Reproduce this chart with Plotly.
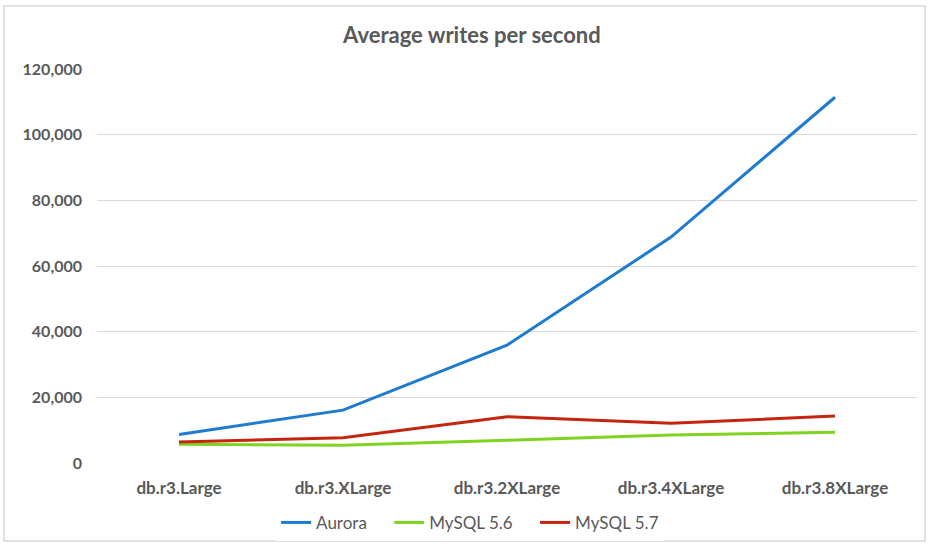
import plotly.graph_objects as go

categories = ["db.r3.Large", "db.r3.XLarge", "db.r3.2XLarge", "db.r3.4XLarge", "db.r3.8XLarge"]
aurora = [8700, 16100, 35900, 68800, 111400]
mysql56 = [5700, 5400, 6900, 8500, 9350]
mysql57 = [6400, 7700, 14100, 12100, 14300]
y_ticks = [0, 20000, 40000, 60000, 80000, 100000, 120000]
y_tick_labels = ["0", "20,000", "40,000", "60,000", "80,000", "100,000", "120,000"]

font_family = "Lato, 'Open Sans', sans-serif"
grey = "#595959"
pad = "\u00a0" * 4

fig = go.Figure()
for name, label, vals, color in [("Aurora", "Aurora" + pad, aurora, "#1f7bcf"),
                                 ("MySQL 5.6", "MySQL 5.6" + pad, mysql56, "#7fd321"),
                                 ("MySQL 5.7", "MySQL 5.7", mysql57, "#c4250e")]:
    fig.add_trace(go.Scatter(x=categories, y=vals, name=label, mode="lines",
                             line=dict(color=color, width=3)))

fig.update_layout(
    width=929, height=547,
    margin=dict(l=97, r=12, t=69, b=84, autoexpand=False),
    paper_bgcolor="white", plot_bgcolor="white",
    title=dict(text="<b>Average writes per second</b>", x=0.508, xanchor="center",
               y=0.936, yanchor="middle",
               font=dict(family=font_family, size=22, color=grey)),
    font=dict(family=font_family, color=grey),
    xaxis=dict(type="category", range=[-0.5, 4.5], showgrid=False, zeroline=False,
               showline=False, ticks="", ticklabelstandoff=13, automargin=False,
               tickfont=dict(size=17, color=grey, family=font_family),
               tickvals=categories, ticktext=["<b>%s</b>" % c for c in categories]),
    yaxis=dict(range=[0, 120000], tickvals=y_ticks, automargin=False,
               ticktext=["<b>%s</b>" % t for t in y_tick_labels],
               showgrid=True, gridcolor="#d9d9d9", gridwidth=1, zeroline=False,
               showline=False, ticks="", ticklabelstandoff=14,
               tickfont=dict(size=16, color=grey, family=font_family)),
    legend=dict(orientation="h", x=0.455, xanchor="center", y=-0.152, yanchor="middle",
                font=dict(size=17, color=grey, family=font_family),
                tracegroupgap=0),
    showlegend=True,
)
fig.add_shape(type="rect", xref="paper", yref="paper",
              x0=-0.1134, x1=1.0098, y0=-0.198, y1=1.16,
              line=dict(color="#d9d9d9", width=1.5), fillcolor="rgba(0,0,0,0)", layer="below")

fig.write_html("out.html", config={"displayModeBar": False},
               post_script="document.body.style.margin='0';document.body.style.overflow='hidden';")
